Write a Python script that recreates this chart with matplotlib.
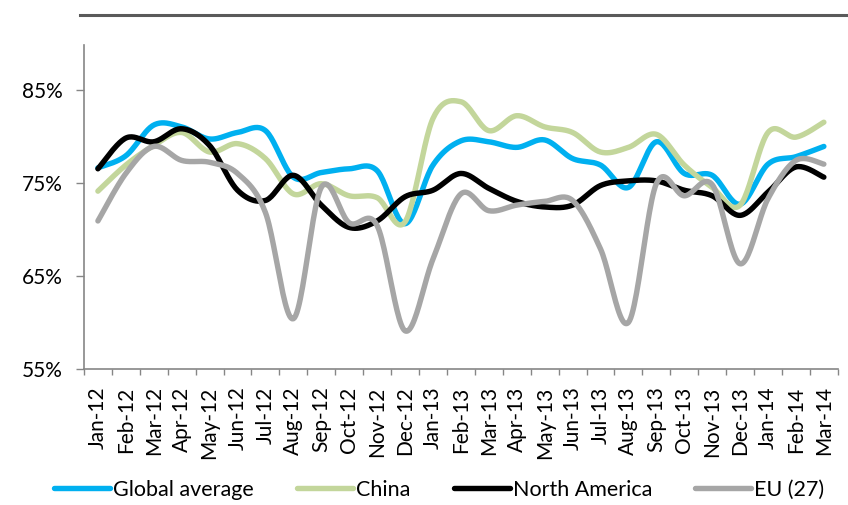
import numpy as np
import matplotlib
matplotlib.use("Agg")
import matplotlib.pyplot as plt
from matplotlib.lines import Line2D

plt.rcParams['font.family'] = ['Lato', 'DejaVu Sans']

months = ["Jan-12", "Feb-12", "Mar-12", "Apr-12", "May-12", "Jun-12", "Jul-12",
          "Aug-12", "Sep-12", "Oct-12", "Nov-12", "Dec-12", "Jan-13", "Feb-13",
          "Mar-13", "Apr-13", "May-13", "Jun-13", "Jul-13", "Aug-13", "Sep-13",
          "Oct-13", "Nov-13", "Dec-13", "Jan-14", "Feb-14", "Mar-14"]

global_avg = [76.6, 77.9, 81.2, 81.0, 79.7, 80.4, 80.6, 75.6, 76.1, 76.5, 76.3,
              70.6, 76.9, 79.5, 79.4, 78.8, 79.6, 77.6, 76.9, 74.5, 79.4, 76.0,
              75.8, 72.7, 77.0, 77.8, 78.9]
china = [74.1, 76.9, 79.0, 80.4, 78.3, 79.2, 77.6, 73.8, 74.9, 73.6, 73.4,
         70.8, 81.9, 83.7, 80.6, 82.2, 81.0, 80.4, 78.3, 78.8, 80.2, 76.9,
         74.5, 72.6, 80.4, 79.9, 81.5]
north_america = [76.5, 79.8, 79.4, 80.8, 79.0, 74.2, 73.1, 75.8, 72.6, 70.2, 70.9,
                 73.5, 74.2, 76.0, 74.4, 73.0, 72.4, 72.6, 74.7, 75.2, 75.2, 74.2,
                 73.6, 71.5, 74.0, 76.7, 75.6]
eu27 = [70.9, 76.0, 78.9, 77.4, 77.2, 76.0, 71.8, 60.4, 74.5, 70.7, 70.4,
        59.1, 66.8, 73.8, 72.0, 72.6, 73.0, 73.1, 67.9, 60.0, 74.9, 73.6,
        74.8, 66.3, 73.3, 77.4, 77.0]

series = [
    ("Global average", global_avg, "#00B0F0"),
    ("China", china, "#C3D69B"),
    ("North America", north_america, "#000000"),
    ("EU (27)", eu27, "#A6A6A6"),
]

y_ticks = [55, 65, 75, 85]


def smooth(xs, ys, n=24):
    """Cubic Bezier smoothing through every point (Catmull-Rom style)."""
    xs = np.asarray(xs, float)
    ys = np.asarray(ys, float)
    px = np.concatenate([[xs[0]], xs, [xs[-1]]])
    py = np.concatenate([[ys[0]], ys, [ys[-1]]])
    t = np.linspace(0, 1, n, endpoint=False)[:, None]
    out_x, out_y = [], []
    for i in range(1, len(px) - 2):
        p0 = np.array([px[i], py[i]])
        p3 = np.array([px[i + 1], py[i + 1]])
        c1 = p0 + (p3 - np.array([px[i - 1], py[i - 1]])) / 6.0
        c2 = p3 - (np.array([px[i + 2], py[i + 2]]) - p0) / 6.0
        pts = ((1 - t) ** 3) * p0 + 3 * ((1 - t) ** 2) * t * c1 \
            + 3 * (1 - t) * t ** 2 * c2 + t ** 3 * p3
        out_x.append(pts[:, 0])
        out_y.append(pts[:, 1])
    out_x.append([xs[-1]])
    out_y.append([ys[-1]])
    return np.concatenate(out_x), np.concatenate(out_y)


fig = plt.figure(figsize=(8.48, 5.05), dpi=100)
ax = fig.add_axes([0.099, 0.2693, 0.889, 0.6417])

x = np.arange(len(months))
handles = []
for name, vals, color in series:
    sx, sy = smooth(x, vals)
    ln, = ax.plot(sx, sy, color=color, lw=3.9, solid_capstyle='round',
                  solid_joinstyle='round', label=name)
    handles.append(ln)

ax.set_xlim(-0.5, len(months) - 0.5)
ax.set_ylim(55, 89.8)
ax.set_yticks(y_ticks)
ax.set_yticklabels([f"{v}%" for v in y_ticks], fontsize=15)

# category boundaries carry the tick marks, centres carry the labels
ax.set_xticks(list(x - 0.5) + [len(months) - 0.5])
ax.set_xticklabels([])
ax.set_xticks(x, minor=True)
ax.set_xticklabels(months, minor=True, rotation=90, fontsize=15)
ax.tick_params(axis='x', which='minor', length=0, pad=12.5)
ax.tick_params(axis='x', which='major', length=4.5, width=1, color='#868686',
               direction='out')
ax.tick_params(axis='y', length=5.5, width=1, color='#868686', direction='out',
               pad=10)

for side in ('top', 'right'):
    ax.spines[side].set_visible(False)
for side in ('left', 'bottom'):
    ax.spines[side].set_color('#868686')
    ax.spines[side].set_linewidth(1.2)

fig.add_artist(Line2D([0.094, 1.0], [0.971, 0.971], color='#5A5A5A', lw=2.2,
                      transform=fig.transFigure))

fig.legend(handles=handles, loc='center', bbox_to_anchor=(0.518, 0.03),
           ncol=4, frameon=False, fontsize=15.5, handlelength=2.6,
           handletextpad=0.15, columnspacing=2.0, borderpad=0.2)

fig.savefig("out.png", dpi=100)
